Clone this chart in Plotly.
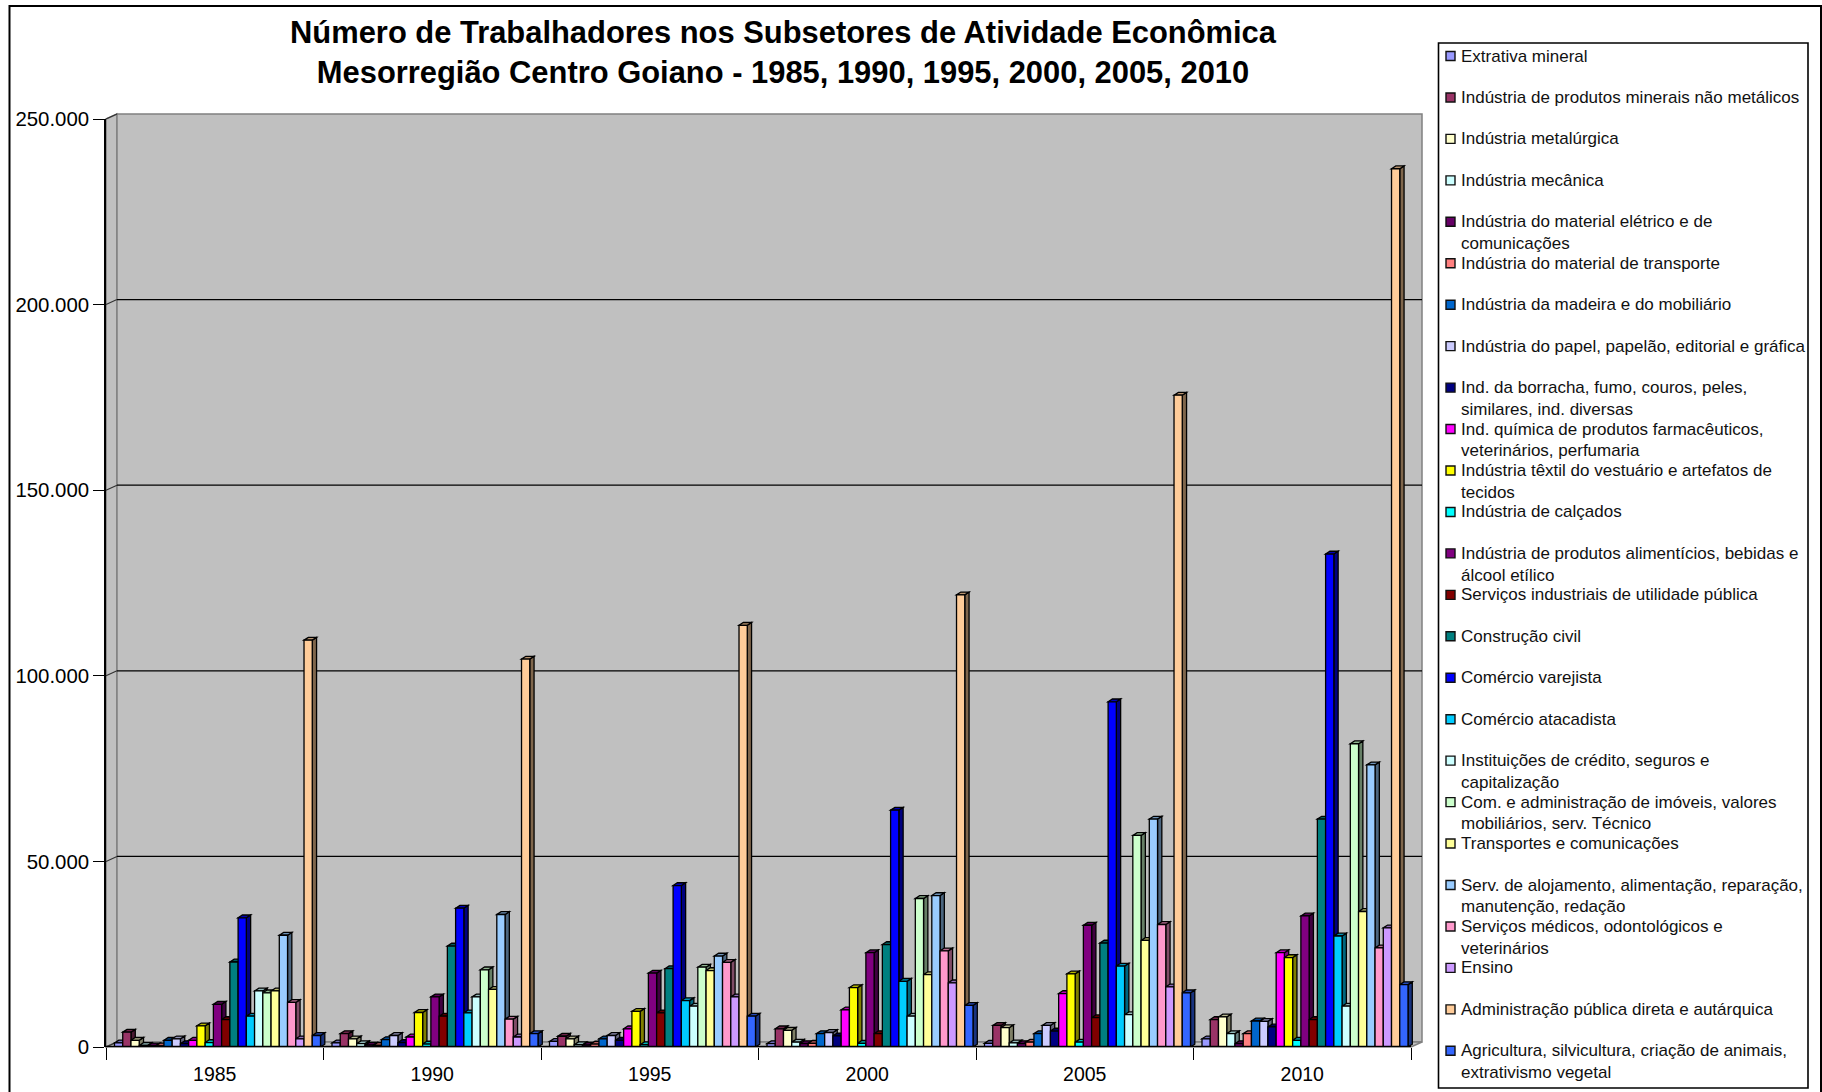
import plotly.graph_objects as go

W, H = 1822, 1092

years = ["1985", "1990", "1995", "2000", "2005", "2010"]

sectors = [
    ["Extrativa mineral"],
    ["Indústria de produtos minerais não metálicos"],
    ["Indústria metalúrgica"],
    ["Indústria mecânica"],
    ["Indústria do material elétrico e de", "comunicações"],
    ["Indústria do material de transporte"],
    ["Indústria da madeira e do mobiliário"],
    ["Indústria do papel, papelão, editorial e gráfica"],
    ["Ind. da borracha, fumo, couros, peles,", "similares, ind. diversas"],
    ["Ind. química de produtos farmacêuticos,", "veterinários, perfumaria"],
    ["Indústria têxtil do vestuário e artefatos de", "tecidos"],
    ["Indústria de calçados"],
    ["Indústria de produtos alimentícios, bebidas e", "álcool etílico"],
    ["Serviços industriais de utilidade pública"],
    ["Construção civil"],
    ["Comércio varejista"],
    ["Comércio atacadista"],
    ["Instituições de crédito, seguros e", "capitalização"],
    ["Com. e administração de imóveis, valores", "mobiliários, serv. Técnico"],
    ["Transportes e comunicações"],
    ["Serv. de alojamento, alimentação, reparação,", "manutenção, redação"],
    ["Serviços médicos, odontológicos e", "veterinários"],
    ["Ensino"],
    ["Administração pública direta e autárquica"],
    ["Agricultura, silvicultura, criação de animais,", "extrativismo vegetal"],
]

colors = ["#9999FF", "#993366", "#FFFFCC", "#CCFFFF", "#660066", "#FF8080", "#0066CC",
          "#CCCCFF", "#000080", "#FF00FF", "#FFFF00", "#00FFFF", "#800080", "#800000",
          "#008080", "#0000FF", "#00CCFF", "#CCFFFF", "#CCFFCC", "#FFFF99", "#99CCFF",
          "#FF99CC", "#CC99FF", "#FFCC99", "#3366FF"]

v1985 = [1100, 4000, 1800, 400, 300, 300, 1800, 2200, 900, 1800, 5700, 1200, 11500, 7400, 22900,
         34800, 8300, 15100, 14600, 15100, 30100, 12000, 2200, 109600, 3100]
v1990 = [1100, 3600, 2200, 900, 500, 400, 2000, 3100, 1200, 2700, 9300, 800, 13500, 8300, 27200,
         37400, 9200, 13500, 20800, 15500, 35700, 7500, 2700, 104500, 3600]
v1995 = [1500, 2900, 2200, 600, 500, 800, 2200, 3100, 1800, 4900, 9600, 600, 19900, 9200, 21100,
         43500, 12500, 11000, 21500, 20600, 24500, 22800, 13500, 113600, 8300]
v2000 = [900, 4900, 4500, 1300, 900, 1000, 3600, 3900, 3000, 10000, 16000, 1000, 25400, 3600, 27600,
         63800, 17700, 8300, 40000, 19500, 40800, 25900, 17300, 121800, 11200]
v2005 = [1000, 5800, 5200, 1100, 900, 1300, 3600, 5800, 4300, 14400, 19700, 1300, 32800, 7900, 28000,
         93000, 21800, 8700, 57000, 28700, 61400, 33000, 16200, 175600, 14600]
v2010 = [2200, 7400, 8100, 3600, 900, 3600, 7000, 6900, 5400, 25400, 24100, 1800, 35300, 7400, 61400,
         132800, 29900, 11000, 81700, 36500, 76000, 26700, 32100, 236600, 16800]
table = [v1985, v1990, v1995, v2000, v2005, v2010]

y_ticks = [0, 50000, 100000, 150000, 200000, 250000]

# ---- layout geometry (pixels) ----
PL, PB, PT = 106, 1047, 119      # front plot frame
CAT_PX = 217.5                    # width of one category
BX, BY = 11, 5                    # back wall offset
AXIS_R = PL + 6 * CAT_PX
PR = AXIS_R + BX                  # plot area goes past the last tick for the depth
YMAX = 250000

BAR_W = 8.24 / CAT_PX
BAR_LEFT = 8.5 / CAT_PX
DX = 4.3 / CAT_PX                 # bar depth in category units
DY = 2.8 / (PB - PT) * YMAX       # bar depth in value units


def px(x):
    return (x - PL) / (PR - PL)


def py(y):
    return (PB - y) / (PB - PT)


def shade(c, f):
    r, g, b = int(c[1:3], 16), int(c[3:5], 16), int(c[5:7], 16)
    return "#%02X%02X%02X" % (int(r * f), int(g * f), int(b * f))


def vy(v):
    return PB - (PB - PT) * v / YMAX


fig = go.Figure()
shapes, annots = [], []


def poly(points, fill, line="#808080", lw=1.5, layer="below"):
    d = "M " + " L ".join(f"{px(x):.5f},{py(y):.5f}" for x, y in points) + " Z"
    shapes.append(dict(type="path", xref="paper", yref="paper", path=d, fillcolor=fill,
                       line=dict(color=line, width=lw), layer=layer))


def seg(x0, y0, x1, y1, color="black", lw=1.3, layer="below"):
    shapes.append(dict(type="line", xref="paper", yref="paper", x0=px(x0), y0=py(y0), x1=px(x1), y1=py(y1),
                       line=dict(color=color, width=lw), layer=layer))


# outer frame
shapes.append(dict(type="rect", xref="paper", yref="paper", x0=px(9.5), y0=py(6), x1=px(1821), y1=py(1100),
                   fillcolor="white", line=dict(color="black", width=2), layer="below"))
# walls and floor
poly([(PL, PT), (PL + BX, PT - BY), (PL + BX, PB - BY), (PL, PB)], "#C0C0C0")
poly([(PL + BX, PT - BY), (PR, PT - BY), (PR, PB - BY), (PL + BX, PB - BY)], "#C0C0C0")
poly([(PL, PB), (PL + BX, PB - BY), (PR, PB - BY), (AXIS_R, PB)], "#C0C0C0")
# grid on back wall and slants on the side wall
for t in y_ticks:
    yy = vy(t)
    if 0 < t < YMAX:
        seg(PL + BX, yy - BY, PR, yy - BY)
    seg(PL, yy, PL + BX, yy - BY, color="#303030", lw=1.1)

# faces of bars
for s, (name, col) in enumerate(zip(sectors, colors)):
    offs = -0.5 + BAR_LEFT + s * BAR_W
    vals = [row[s] for row in table]
    side, top = [], []
    for c, v in enumerate(vals):
        x0 = c + offs
        x1 = x0 + BAR_W
        side.append(f"M {x1:.5f},0 L {x1 + DX:.5f},{DY:.0f} L {x1 + DX:.5f},{v + DY:.0f} L {x1:.5f},{v} Z")
        top.append(f"M {x0:.5f},{v} L {x0 + DX:.5f},{v + DY:.0f} L {x1 + DX:.5f},{v + DY:.0f} L {x1:.5f},{v} Z")
    for path, f in ((" ".join(side), 0.5), (" ".join(top), 0.72)):
        shapes.append(dict(type="path", xref="x", yref="y", path=path, fillcolor=shade(col, f),
                           line=dict(color="black", width=1.3), layer="between"))
    fig.add_trace(go.Bar(x=years, y=vals, name=" ".join(name), width=BAR_W, offset=offs,
                         marker=dict(color=col, line=dict(color="black", width=1.3))))

# x axis line
shapes.append(dict(type="line", xref="x", yref="y", x0=-0.5, x1=5.5, y0=0, y1=0,
                   line=dict(color="black", width=2.4), layer="above"))

# legend panel
LEG_X0, LEG_X1, LEG_Y0, LEG_Y1 = 1438.5, 1808, 43, 1088
LEG_FIRST, LEG_STEP = 56, 41.45
LINE_H = 21.7
shapes.append(dict(type="rect", xref="paper", yref="paper", x0=px(LEG_X0), x1=px(LEG_X1), y0=py(LEG_Y0), y1=py(LEG_Y1),
                   fillcolor="white", line=dict(color="black", width=1.6), layer="above"))
for s, (name, col) in enumerate(zip(sectors, colors)):
    cy = LEG_FIRST + s * LEG_STEP
    shapes.append(dict(type="rect", xref="paper", yref="paper", x0=px(1446), x1=px(1455), y0=py(cy - 4.5), y1=py(cy + 4.5),
                       fillcolor=col, line=dict(color="#101010", width=1.4), layer="above"))
    for k, text in enumerate(name):
        annots.append(dict(xref="paper", yref="paper", x=px(1459), y=py(cy + k * LINE_H), text=text,
                           showarrow=False, xanchor="left", yanchor="middle",
                           font=dict(family="Liberation Sans", size=17, color="#111111")))

fig.update_layout(
    width=W, height=H,
    autosize=False,
    barmode="overlay",
    showlegend=False,
    separators=",.",
    paper_bgcolor="white",
    plot_bgcolor="rgba(0,0,0,0)",
    margin=dict(l=PL, r=W - PR, t=PT, b=H - PB, pad=0, autoexpand=False),
    font=dict(family="Liberation Sans", color="black"),
    title=dict(text="Número de Trabalhadores nos Subsetores de Atividade Econômica<br>"
                    "Mesorregião Centro Goiano - 1985, 1990, 1995, 2000, 2005, 2010",
               x=783 / W, xref="container", xanchor="center",
               y=1 - 42.5 / H, yref="container", yanchor="middle",
               font=dict(family="Liberation Sans", size=30.9, color="black", weight="bold")),
    xaxis=dict(type="category", categoryorder="array", categoryarray=years,
               range=[-0.5, 5.5 + BX / CAT_PX], tickson="boundaries", automargin=False,
               ticks="outside", ticklen=12, tickwidth=1.3, tickcolor="black",
               tickfont=dict(size=19.5), ticklabelstandoff=13,
               showline=False, showgrid=False, zeroline=False),
    yaxis=dict(range=[0, YMAX], tickvals=y_ticks, tickformat=",d", automargin=False,
               ticks="outside", ticklen=11, tickwidth=1.3, tickcolor="black",
               tickfont=dict(size=20.4), showline=True, linecolor="black", linewidth=1.6,
               showgrid=False, zeroline=False),
    shapes=shapes,
    annotations=annots,
)

fig.write_html("out.html", config={"displayModeBar": False},
               post_script="document.body.style.margin='0';document.body.style.overflow='hidden';")
